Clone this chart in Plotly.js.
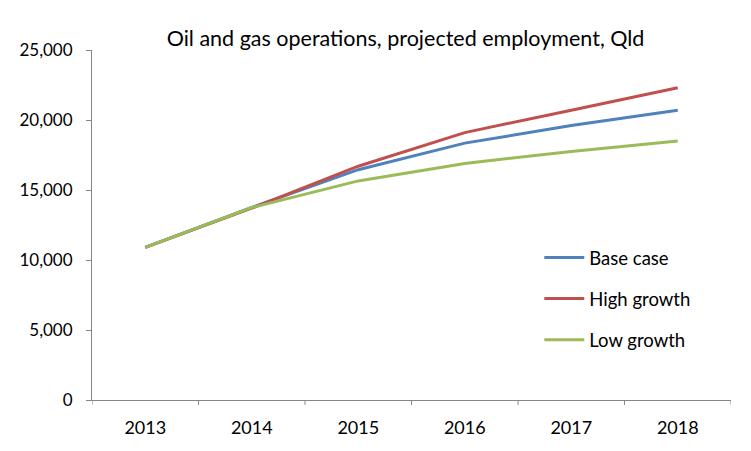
<!DOCTYPE html>
<html>
<head>
<meta charset="utf-8">
<script src="https://cdn.plot.ly/plotly-3.0.1.min.js"></script>
<style>html,body{margin:0;padding:0;background:#fff;}#chart{width:751px;height:451px;}</style>
</head>
<body>
<div id="chart"></div>
<script>
const years = ['2013', '2014', '2015', '2016', '2017', '2018'];
const baseCase = [10900, 13750, 16450, 18350, 19600, 20700];
const highGrowth = [10900, 13700, 16700, 19100, 20700, 22300];
const lowGrowth = [10900, 13750, 15650, 16900, 17750, 18500];
const seriesNames = ['Base case', 'High growth', 'Low growth'];
const seriesColors = ['#4F81BD', '#C0504D', '#9BBB59'];
const yTicks = [0, 5000, 10000, 15000, 20000, 25000];
const yTickLabels = ['0', '5,000', '10,000', '15,000', '20,000', '25,000'];

const idx = years.map((_, i) => i);
const allSeries = [baseCase, highGrowth, lowGrowth];
const traces = allSeries.map((vals, k) => ({
  x: idx, y: vals, type: 'scatter', mode: 'lines',
  name: seriesNames[k], legendgroup: 'g' + k,
  line: {color: seriesColors[k], width: 3}
}));

const font = 'Lato, "Open Sans", sans-serif';
const layout = {
  width: 751, height: 451,
  margin: {l: 92, r: 20, t: 50, b: 51},
  paper_bgcolor: '#fff', plot_bgcolor: '#fff',
  title: {text: 'Oil and gas operations, projected employment, Qld', font: {family: font, size: 21.5, color: '#000'}, x: 0.54, xanchor: 'center', y: 0.915, yanchor: 'middle'},
  showlegend: true,
  legend: {x: 0.7, y: 0.46, xanchor: 'left', yanchor: 'top', font: {family: font, size: 18.5, color: '#000'}, traceorder: 'grouped', tracegroupgap: 14, itemwidth: 40, bgcolor: 'rgba(0,0,0,0)'},
  xaxis: {
    range: [-0.5, 5.5], tickmode: 'array', tickvals: idx, ticktext: years,
    showgrid: false, zeroline: false, showline: true, linecolor: '#868686', linewidth: 1,
    ticks: '', tickfont: {family: font, size: 18, color: '#000'}, ticklabelstandoff: 11, fixedrange: true
  },
  yaxis: {
    range: [0, 25000], tickmode: 'array', tickvals: yTicks, ticktext: yTickLabels,
    showgrid: false, zeroline: false, showline: true, linecolor: '#868686', linewidth: 1,
    ticks: 'outside', ticklen: 5, tickcolor: '#868686', tickfont: {family: font, size: 17, color: '#000'}, ticklabelstandoff: 10, fixedrange: true
  },
  shapes: idx.concat([6]).map(i => ({
    type: 'line', xref: 'x', yref: 'paper', x0: i - 0.5, x1: i - 0.5, y0: 0, y1: -0.014,
    line: {color: '#868686', width: 1}
  }))
};
Plotly.newPlot('chart', traces, layout, {displayModeBar: false, staticPlot: true});
</script>
</body>
</html>
